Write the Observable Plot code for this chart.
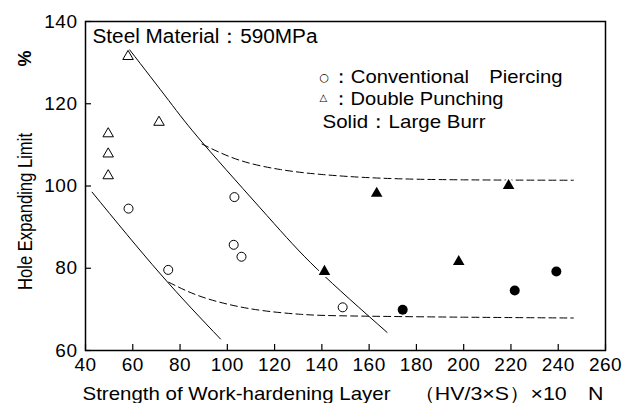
<!DOCTYPE html>
<html><head><meta charset="utf-8">
<script src="https://cdn.jsdelivr.net/npm/d3@7"></script>
<script src="https://cdn.jsdelivr.net/npm/@observablehq/plot@0.6"></script>
<style>
html,body{margin:0;padding:0;background:#fff;}
svg{display:block;}
</style>
</head><body>
<div id="chart"></div>
<script>
// Data
const openCircleX = [58.2, 75.0, 103.0, 102.7, 106.0, 148.8];
const openCircleY = [94.5, 79.6, 97.3, 85.7, 82.8, 70.5];
const openTriX = [58.0, 71.1, 49.6, 49.6, 49.6];
const openTriY = [131.5, 115.5, 112.7, 107.8, 102.5];
const solidTriX = [141.1, 163.2, 197.9, 219.0];
const solidTriY = [79.2, 98.2, 81.6, 100.1];
const solidCircleX = [174.2, 221.6, 239.2];
const solidCircleY = [69.9, 74.6, 79.2];

const upperSolidX = [58.7, 75.2, 90.0, 116.8, 138.0, 167.6];
const upperSolidY = [133.1, 120.8, 110.2, 92.8, 79.8, 64.4];
const lowerSolidX = [42.8, 71.7, 97.1];
const lowerSolidY = [98.5, 78.6, 62.8];
const upperDashX = [89.3, 105, 122.5, 140, 165, 200, 246.4];
const upperDashY = [110.2, 106.3, 104.0, 102.8, 101.9, 101.5, 101.4];
const lowerDashX = [75.2, 87, 100.6, 115, 131, 152, 200, 246.4];
const lowerDashY = [76.6, 73.5, 71.2, 69.7, 68.8, 68.4, 68.1, 67.9];

const xTicks = [40, 60, 80, 100, 120, 140, 160, 180, 200, 220, 240, 260];
const yTicks = [60, 80, 100, 120, 140];

const titleText = "Steel Material：590MPa";
const legendTexts = ["：Conventional　Piercing", "：Double Punching", "Solid：Large Burr"];
const legendSymbols = ["○", "△"];
const xLabel1 = "Strength of Work-hardening Layer";
const xLabel2 = "（HV/3×S）×10　N";
const yLabel = "Hole Expanding Limit";
const yUnit = "%";

const zip = (xs, ys) => xs.map((x, i) => ({x, y: ys[i]}));

const font = "'Liberation Sans', Arial, 'DejaVu Sans', sans-serif";
const symFont = "'DejaVu Sans', sans-serif";

const W = 634, H = 403, ML = 85, MR = 29, MT = 21, MB = 53, TICK = 6;
const frameW = W - ML - MR, frameH = H - MT - MB;

const plot = Plot.plot({
  width: W,
  height: H,
  marginLeft: ML,
  marginRight: MR,
  marginTop: MT,
  marginBottom: MB,
  style: {fontFamily: font, fontSize: "19px", color: "black", background: "white"},
  x: {domain: [40, 260]},
  y: {domain: [60, 140]},
  marks: [
    Plot.frame({stroke: "black", strokeWidth: 1.5}),
    Plot.axisX({ticks: xTicks, tickSize: 0, tickPadding: 7, label: null, tickFormat: d => String(d)}),
    Plot.axisY({ticks: yTicks, tickSize: 0, tickPadding: 8, label: null, tickFormat: d => String(d)}),
    // inward tick marks
    Plot.ruleX(xTicks, {x: d => d, insetTop: frameH - TICK, stroke: "black", strokeWidth: 1.2}),
    Plot.ruleY(yTicks, {y: d => d, insetRight: frameW - TICK, stroke: "black", strokeWidth: 1.2}),
    Plot.line(zip(upperSolidX, upperSolidY), {x: "x", y: "y", curve: "natural", stroke: "black", strokeWidth: 1}),
    Plot.line(zip(lowerSolidX, lowerSolidY), {x: "x", y: "y", curve: "natural", stroke: "black", strokeWidth: 1}),
    Plot.line(zip(upperDashX, upperDashY), {x: "x", y: "y", curve: "natural", stroke: "black", strokeWidth: 1, strokeDasharray: "7,4"}),
    Plot.line(zip(lowerDashX, lowerDashY), {x: "x", y: "y", curve: "natural", stroke: "black", strokeWidth: 1, strokeDasharray: "7,4"}),
    // white halos
    Plot.dot(zip(solidTriX, solidTriY), {x: "x", y: "y", symbol: "triangle", r: 4.3, fill: "black", stroke: "white", strokeWidth: 4}),
    Plot.dot(zip(solidCircleX, solidCircleY), {x: "x", y: "y", r: 5, fill: "black", stroke: "white", strokeWidth: 2}),
    Plot.dot(zip(solidTriX, solidTriY), {x: "x", y: "y", symbol: "triangle", r: 4.3, fill: "black"}),
    Plot.dot(zip(solidCircleX, solidCircleY), {x: "x", y: "y", r: 5, fill: "black"}),
    Plot.dot(zip(openCircleX, openCircleY), {x: "x", y: "y", r: 4.5, fill: "white", stroke: "black", strokeWidth: 1}),
    Plot.dot(zip(openTriX, openTriY), {x: "x", y: "y", symbol: "triangle", r: 3.9, fill: "white", stroke: "black", strokeWidth: 1}),
    // annotations
    Plot.text([titleText], {frameAnchor: "top-left", dx: 7, dy: 15, text: d => d, textAnchor: "start", lineAnchor: "middle", fontSize: 20}),
    Plot.text([legendSymbols[0]], {frameAnchor: "top-left", dx: 234, dy: 56, text: d => d, textAnchor: "start", lineAnchor: "middle", fontSize: 11, fontFamily: symFont, fill: "black"}),
    Plot.text([legendSymbols[1]], {frameAnchor: "top-left", dx: 234, dy: 76, text: d => d, textAnchor: "start", lineAnchor: "middle", fontSize: 10, fontFamily: symFont, fill: "black"}),
    Plot.text([legendTexts[0]], {frameAnchor: "top-left", dx: 245, dy: 55, text: d => d, textAnchor: "start", lineAnchor: "middle", fontSize: 19}),
    Plot.text([legendTexts[1]], {frameAnchor: "top-left", dx: 245, dy: 77.5, text: d => d, textAnchor: "start", lineAnchor: "middle", fontSize: 19}),
    Plot.text([legendTexts[2]], {frameAnchor: "top-left", dx: 237, dy: 100, text: d => d, textAnchor: "start", lineAnchor: "middle", fontSize: 19}),
    Plot.text([xLabel1], {frameAnchor: "bottom-left", dx: -3, dy: 43, text: d => d, textAnchor: "start", lineAnchor: "middle", fontSize: 19}),
    Plot.text([xLabel2], {frameAnchor: "bottom-left", dx: 328, dy: 43, text: d => d, textAnchor: "start", lineAnchor: "middle", fontSize: 19}),
    Plot.text([yLabel], {frameAnchor: "left", dx: -60, dy: 25.5, text: d => d, rotate: -90, textAnchor: "middle", lineAnchor: "middle", fontSize: 20}),
    Plot.text([yUnit], {frameAnchor: "top-left", dx: -60, dy: 37, text: d => d, rotate: -90, textAnchor: "middle", lineAnchor: "middle", fontSize: 18, fontWeight: "bold"})
  ]
});
document.getElementById("chart").appendChild(plot);

// fit text widths to the reference
const fits = new Map([
  [titleText, 225],
  [legendTexts[0], 232],
  [legendTexts[1], 173],
  [legendTexts[2], 163],
  [xLabel1, 308],
  [xLabel2, 190],
  [yLabel, 157]
]);
plot.querySelectorAll("text").forEach(t => {
  const s = t.textContent;
  if (fits.has(s)) {
    t.setAttribute("textLength", fits.get(s));
    t.setAttribute("lengthAdjust", "spacingAndGlyphs");
  } else if (/^\d+$/.test(s)) {
    t.style.letterSpacing = "0.5px";
  }
});
</script>
</body></html>
